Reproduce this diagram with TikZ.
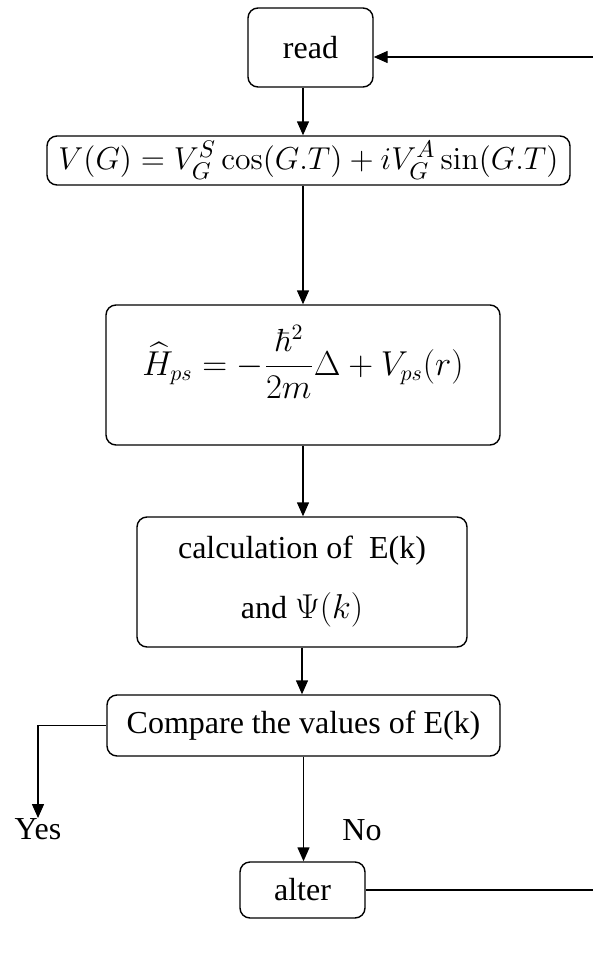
\documentclass[tikz,border=0pt]{standalone}
\usepackage{amsmath,amssymb}
\usepackage[no-math]{fontspec}
\setmainfont{Liberation Serif}
\usetikzlibrary{arrows.meta}

\begin{document}
\begin{tikzpicture}[x=0.5pt,y=-0.5pt,
	every node/.style={font=\fontsize{16}{19}\selectfont},
	box/.style={draw, rounded corners=5pt, line width=0.7pt, inner sep=0pt, align=center},
	flow/.style={-{Triangle[width=6pt,length=7pt]}, line width=0.7pt},
	link/.style={line width=0.7pt}]
	\useasboundingbox (0,0) rectangle (593,959);
	% boxes
	\node[box, minimum width=62.5pt, minimum height=39.5pt] (read) at (310.5,47.5) {read};
	\node[box, minimum width=261.5pt, minimum height=24.5pt, font=\fontsize{15}{18}\selectfont] (vg) at (308.5,160.5) {\scalebox{1.1}{$V(G) = V_G^S\cos(G.T) + iV_G^A\sin(G.T)$}};
	\node[box, minimum width=197pt, minimum height=70pt] (ham) at (303,375) {\raisebox{6.5pt}[\height][\depth]{$\widehat{H}_{ps} = -\dfrac{\hbar^2}{2m}\Delta + V_{ps}(r)$}};
	\node[box, minimum width=165pt, minimum height=65pt] (calc) at (302,582) {calculation of \ E(k)\\[11pt] and $\Psi(k)$};
	\node[box, minimum width=196.5pt, minimum height=30.5pt] (comp) at (303.5,725.5) {Compare the values of E(k)};
	\node[box, minimum width=62.5pt, minimum height=28pt] (alter) at (302.5,890) {alter};
	% labels
	\node[inner sep=0pt, anchor=north] (yes) at (38,818) {Yes};
	\node (no) at (362,830) {No};
	% free ends at the right edge
	\coordinate (rtop) at (593,57);
	\coordinate (rbot) at (593,890);
	% connectors
	\draw[flow] (rtop) -- (rtop -| read.east);
	\draw[flow] (read.south -| ham) -- (vg.north -| ham);
	\draw[flow] (vg.south -| ham) -- (ham.north);
	\draw[flow] (ham.south) -- (ham.south |- calc.north);
	\draw[flow] (calc.south) -- (calc.south |- comp.north);
	\draw[flow] (comp.west) -| (yes.north);
	\draw[flow] (comp.south) -- (comp.south |- alter.north);
	\draw[link] (alter.east) -- (rbot);
\end{tikzpicture}
\end{document}
